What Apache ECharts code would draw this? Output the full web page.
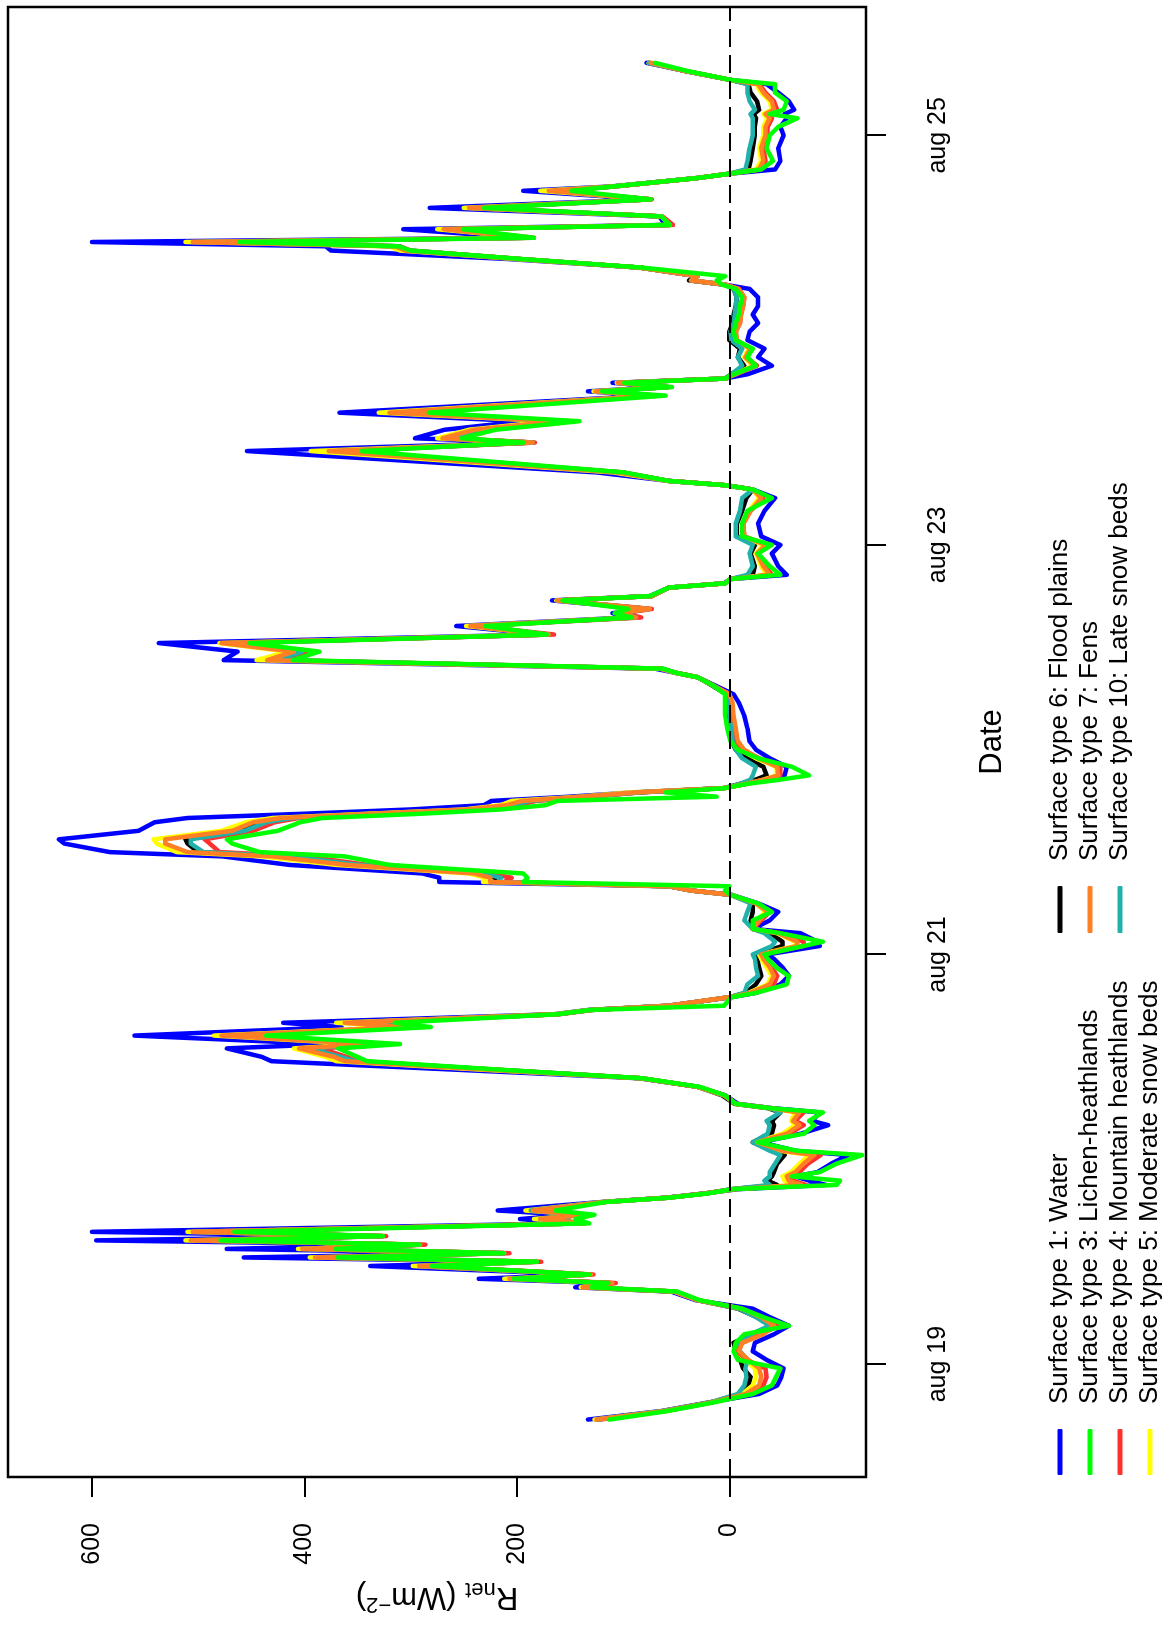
<!DOCTYPE html>
<html>
<head>
<meta charset="utf-8">
<title>Net radiation by surface type</title>
<script src="https://cdn.jsdelivr.net/npm/echarts@6/dist/echarts.min.js"></script>
<style>
  html, body { margin: 0; padding: 0; background: #fff; width: 1171px; height: 1629px; overflow: hidden; }
  /* The figure is laid out landscape and turned a quarter turn counter-clockwise onto the portrait page. */
  #chart { position: absolute; left: 0; top: 0; width: 1629px; height: 1171px;
           transform-origin: 0 0; transform: translate(0px, 1629px) rotate(-90deg); }
</style>
</head>
<body>
<div id="chart"></div>
<script>
// Hours since 19 Aug 00:00
const timeHours = [
  -6.5,-5.5,-4.5,-3.5,-2.5,-1.5,-0.5,0.5,1.5,2.5,3.5,4.5,5.5,6.5,7.5,8.5,
  9,9.5,10,10.5,11.5,12,12.5,13,13.5,14,14.5,15,15.5,16.5,17,17.5,18,19,19.5,20,
  20.5,21,21.5,22,22.5,23.5,24.5,25,26,27,28,28.5,29.5,30,30.5,31.5,32.5,33.5,34.5,35.5,
  36,37,37.5,38.5,39.5,40,41,41.5,42,43,
  43.5,44.5,45.5,46.5,47.5,48,49,49.5,50.5,51,52,53,54,55,55.5,56,
  56.5,57,57.5,58.5,59.5,60,61,61.5,62.5,63.5,64,64.5,65,65.5,66,66.5,67,67.5,68,
  68.5,69,70,71,72,73,74.5,76,77.5,78.5,79.5,80.5,81,81.5,
  82.5,83.5,84.5,85.5,86.5,87.5,88,88.5,89.5,90,91,91.5,
  92,92.5,93.5,95,96,97,98.5,100,101.5,102.5,103,103.5,
  104.5,107,108,108.5,109.5,110.5,111.5,113.5,114,114.5,115,115.5,
  116,117,118,119,120,121,122,123,124,125,126,126.5,127,127.5,
  128.5,129.5,130.5,131,131.5,132,133,133.5,134.5,135.5,136.5,137.5,138,139,139.5,
  140,141,142.5,144,145,146,146.5,147,148,149,150,150.5,151.5,152.5
];

// Net radiation (W m-2) per surface type
const water = [
  133,64,20,-28,-45,-49,-51,-35,-22,-24,-42,-56,-38,-22,32,55,
  145,118,236,136,338,190,457,222,473,300,596,335,600,145,197,150,218,120,60,24,
  -8,-91,-75,-62,-83,-96,-112,-62,-30,-67,-93,-78,-85,-40,-8,4,30,85,257,431,
  440,473,377,560,365,420,165,133,58,-2,
  -25,-48,-56,-50,-42,-35,-85,-83,-67,-22,-38,-46,-27,-2,36,57,
  273,273,289,414,477,583,626,631,556,541,510,400,300,231,224,150,90,5,-15,
  -35,-52,-54,-38,-25,-19,-17,-14,-9,-4,13,30,50,70,
  476,463,537,175,257,95,110,80,167,75,57,5,
  -1,-54,-46,-40,-48,-30,-27,-33,-43,-22,4,57,
  125,454,190,296,268,194,367,75,133,62,110,4,
  -17,-40,-27,-33,-17,-19,-27,-22,-27,-27,-19,4,36,30,
  84,207,375,380,600,195,307,60,66,282,76,194,112,30,0,
  -43,-48,-46,-51,-48,-54,-52,-61,-56,-46,-35,-1,40,78
];
const lichenHeathlands = [
  113,58,15,-22,-40,-44,-48,-8,-4,-6,-14,-56,-32,-12,28,49,
  130,114,203,132,280,181,369,213,371,292,479,326,466,132,145,127,164,116,57,20,
  -3,-101,-104,-59,-85,-101,-125,-64,-27,-70,-80,-75,-88,-38,-6,4,28,82,215,341,
  350,368,310,436,281,315,162,131,5,-2,
  -25,-54,-56,-44,-36,-33,-70,-88,-48,-22,-22,-40,-27,-1,4,0,
  194,190,194,320,362,442,468,473,425,404,383,290,215,173,162,12,60,4,-17,
  -48,-75,-59,-27,-8,-1,2,4,4,4,15,30,50,62,
  411,386,452,172,230,92,108,95,157,75,57,4,
  -1,-48,-38,-27,-40,-12,-12,-17,-40,-22,4,57,
  99,346,194,252,220,141,283,60,120,54,99,4,
  -4,-25,-17,-22,-6,-4,-6,-9,-10,-12,-6,7,12,4,
  82,195,300,312,461,184,251,56,64,231,74,149,110,30,0,
  -30,-41,-35,-38,-46,-64,-38,-51,-54,-43,-43,-1,38,70
];
const mountainHeathlands = [
  122,60,17,-18,-32,-35,-34,-16,-8,-12,-30,-46,-30,-10,30,50,
  134,107,204,128,285,177,378,207,385,286,495,323,488,138,172,140,180,117,58,22,
  -5,-72,-60,-55,-66,-74,-86,-54,-27,-56,-70,-62,-70,-38,-6,4,30,83,218,350,
  360,385,325,458,292,345,160,129,57,0,
  -20,-42,-45,-40,-34,-30,-70,-70,-48,-22,-30,-38,-25,-1,36,57,
  212,205,225,340,400,480,489,494,448,428,405,320,232,200,182,130,84,5,-16,
  -35,-48,-48,-28,-12,-6,-4,-3,-2,0,15,30,50,63,
  418,392,465,165,238,83,100,73,160,73,57,4,
  -1,-40,-34,-27,-36,-14,-13,-20,-32,-22,4,57,
  100,360,183,262,230,150,300,67,124,57,102,4,
  -6,-26,-16,-20,-7,-6,-10,-11,-13,-14,-9,4,36,30,
  84,196,300,310,485,184,260,53,63,236,73,160,108,30,0,
  -30,-34,-32,-36,-36,-40,-36,-45,-42,-34,-28,-1,40,75
];
const moderateSnowBeds = [
  127,62,18,-12,-22,-25,-24,-14,-8,-10,-28,-44,-30,-10,30,52,
  140,112,212,131,298,184,395,215,406,294,512,328,510,136,184,138,192,118,58,22,
  -4,-62,-52,-50,-58,-66,-76,-48,-25,-50,-62,-58,-62,-38,-6,5,30,83,232,370,
  380,410,345,485,310,370,164,131,57,0,
  -18,-36,-40,-35,-30,-28,-62,-62,-45,-22,-26,-34,-25,-1,36,57,
  232,230,245,370,440,520,539,542,478,455,430,340,250,215,205,140,94,5,-17,
  -32,-45,-44,-25,-12,-6,-4,-3,-2,0,15,30,50,65,
  445,415,480,172,248,90,105,76,163,73,57,4,
  -1,-35,-30,-25,-32,-12,-12,-18,-28,-22,4,57,
  110,394,186,275,245,168,330,72,128,58,106,4,
  -5,-22,-14,-18,-6,-5,-8,-10,-12,-13,-8,4,36,30,
  84,200,310,320,512,190,275,56,64,250,74,178,110,30,0,
  -25,-30,-28,-32,-32,-36,-32,-40,-38,-30,-25,-1,40,76
];
const floodPlains = [
  126,62,18,-10,-18,-20,-13,-10,-6,-4,-22,-40,-26,-8,30,51,
  138,112,205,131,290,183,388,212,398,292,505,326,500,136,180,138,188,118,58,22,
  -2,-45,-36,-40,-42,-45,-52,-40,-22,-40,-42,-40,-48,-36,-5,7,30,83,222,355,
  368,398,338,470,300,356,162,131,56,0,
  -15,-25,-30,-28,-26,-25,-50,-50,-38,-22,-20,-22,-22,-1,36,57,
  220,220,235,350,420,500,510,512,460,440,415,330,240,206,190,135,86,5,-10,
  -25,-35,-32,-16,-6,-2,0,1,2,3,16,30,50,64,
  428,405,472,170,242,88,104,76,162,73,57,4,
  -1,-22,-24,-20,-24,-7,-7,-12,-16,-22,4,57,
  102,372,185,268,238,160,315,70,126,58,104,4,
  -2,-14,-8,-10,0,0,-3,-4,-6,-7,-4,4,38,30,
  84,197,303,312,498,189,266,56,64,242,74,168,110,30,0,
  -18,-20,-22,-24,-24,-25,-23,-28,-26,-20,-18,-1,40,76
];
const fens = [
  125,61,17,-15,-28,-30,-28,-18,-9,-12,-32,-42,-30,-12,30,52,
  138,110,207,130,292,182,390,212,402,291,507,326,505,136,178,138,185,118,58,22,
  -4,-68,-56,-54,-62,-70,-80,-50,-26,-54,-66,-60,-66,-38,-6,5,30,83,225,362,
  372,405,340,478,305,362,163,131,57,0,
  -20,-38,-42,-38,-32,-30,-64,-64,-46,-22,-28,-36,-25,-1,36,57,
  225,225,240,360,430,510,531,531,468,448,422,335,246,210,195,138,88,5,-15,
  -33,-46,-45,-27,-14,-8,-6,-4,-3,0,15,30,50,65,
  435,410,478,170,244,88,104,75,162,73,57,4,
  -1,-38,-32,-26,-34,-14,-13,-20,-30,-22,4,57,
  105,377,185,270,240,160,320,70,126,58,105,4,
  -6,-24,-15,-20,-7,-6,-10,-11,-13,-14,-9,4,36,30,
  84,198,305,315,505,189,269,56,64,245,74,170,110,30,0,
  -28,-32,-30,-34,-34,-38,-34,-42,-40,-32,-27,-1,40,74
];
const lateSnowBeds = [
  124,62,18,-8,-14,-16,-15,-17,-10,-8,-20,-38,-25,-9,30,51,
  137,113,205,132,290,183,386,212,396,292,503,327,498,136,178,138,187,118,58,22,
  -2,-38,-33,-38,-38,-43,-48,-38,-22,-36,-38,-35,-48,-38,-6,5,30,83,220,352,
  366,395,336,468,300,354,162,131,56,0,
  -14,-17,-27,-25,-24,-22,-40,-43,-33,-22,-14,-17,-20,-1,36,57,
  218,215,232,348,415,495,507,507,456,436,412,328,238,205,188,135,85,5,-10,
  -20,-22,-25,-12,-6,-3,-2,0,1,2,15,30,50,64,
  425,402,470,170,240,88,104,76,162,73,57,4,
  -1,-17,-22,-19,-22,-6,-6,-10,-12,-22,4,57,
  102,370,185,266,236,158,312,70,125,58,104,4,
  -2,-12,-8,-12,-2,-1,-4,-5,-6,-7,-4,4,36,30,
  84,197,302,311,495,189,265,56,64,240,74,166,110,30,0,
  -15,-17,-19,-22,-22,-22,-20,-24,-19,-17,-17,-1,40,76
];

// Axis ticks and labels
const dateTicks = [0, 48, 96, 144];
const dateLabels = ['aug 19', 'aug 21', 'aug 23', 'aug 25'];
const rnetTicks = [0, 200, 400, 600];

const FONT = '"Liberation Sans", Arial, Helvetica, sans-serif';

// Series in drawing order (last one ends up on top)
const surfaces = [
  { name: 'Surface type 1: Water',               values: water,              color: '#0000FF' },
  { name: 'Surface type 6: Flood plains',        values: floodPlains,        color: '#000000' },
  { name: 'Surface type 5: Moderate snow beds',  values: moderateSnowBeds,   color: '#FFFF00' },
  { name: 'Surface type 4: Mountain heathlands', values: mountainHeathlands, color: '#FF3030' },
  { name: 'Surface type 10: Late snow beds',     values: lateSnowBeds,       color: '#20B2AA' },
  { name: 'Surface type 7: Fens',                values: fens,               color: '#FF7F24' },
  { name: 'Surface type 3: Lichen-heathlands',   values: lichenHeathlands,   color: '#00FF00' }
];

const legendLeftColumn = [
  'Surface type 1: Water',
  'Surface type 3: Lichen-heathlands',
  'Surface type 4: Mountain heathlands',
  'Surface type 5: Moderate snow beds'
];
const legendRightColumn = [
  'Surface type 6: Flood plains',
  'Surface type 7: Fens',
  'Surface type 10: Late snow beds'
];

const series = surfaces.map(s => ({
  name: s.name,
  type: 'line',
  data: timeHours.map((h, i) => [h, s.values[i]]),
  symbol: 'none',
  showSymbol: false,
  color: s.color,
  lineStyle: { color: s.color, width: 4.5, cap: 'round', join: 'round' },
  emphasis: { disabled: true },
  animation: false
}));

// Dashed zero reference line, drawn above the curves
series.push({
  name: 'zero',
  type: 'line',
  data: [],
  silent: true,
  animation: false,
  markLine: {
    silent: true,
    symbol: ['none', 'none'],
    label: { show: false },
    animation: false,
    lineStyle: { color: '#000', width: 2, type: [18, 8] },
    emphasis: { disabled: true },
    data: [{ yAxis: 0 }]
  }
});

const legendCommon = {
  orient: 'vertical',
  selectedMode: false,
  icon: 'roundRect',
  itemHeight: 5,
  itemGap: 4,
  textStyle: { fontFamily: FONT, fontSize: 26, color: '#000', lineHeight: 26, padding: [0, 0, 0, 20] }
};

const chart = echarts.init(document.getElementById('chart'), null, { renderer: 'canvas', width: 1629, height: 1171 });

chart.setOption({
  backgroundColor: '#fff',
  animation: false,
  grid: { left: 152, right: 7, top: 8, bottom: 305, show: true, borderColor: '#000', borderWidth: 2.5, backgroundColor: 'transparent' },
  legend: [
    Object.assign({}, legendCommon, { data: legendLeftColumn, left: 149, top: 1042, itemWidth: 46 }),
    Object.assign({}, legendCommon, { data: legendRightColumn, left: 691, top: 1042, itemWidth: 47 })
  ],
  xAxis: {
    type: 'value',
    min: -13.23,
    max: 159.04,
    axisLine: { show: false, onZero: false },
    splitLine: { show: false },
    axisTick: { show: true, inside: false, length: 20, customValues: dateTicks, lineStyle: { color: '#000', width: 2 } },
    axisLabel: {
      customValues: dateTicks,
      margin: 60,
      fontSize: 25,
      fontFamily: FONT,
      color: '#000',
      formatter: v => dateLabels[dateTicks.indexOf(Math.round(v))] || ''
    },
    name: 'Date',
    nameLocation: 'middle',
    nameGap: 111,
    nameTextStyle: { fontSize: 31, fontFamily: FONT, color: '#000' }
  },
  yAxis: {
    type: 'value',
    min: -128.6,
    max: 679,
    axisLine: { show: false, onZero: false },
    splitLine: { show: false },
    axisTick: { show: true, inside: false, length: 20, customValues: rnetTicks, lineStyle: { color: '#000', width: 2 } },
    axisLabel: { customValues: rnetTicks, margin: 46, fontSize: 25, fontFamily: FONT, color: '#000' },
    name: '{a|R}{b|net}{a| (Wm}{c|\u22122}{a|)}',
    nameLocation: 'middle',
    nameRotate: 90,
    nameGap: 102,
    nameTextStyle: {
      fontSize: 31, fontFamily: FONT, color: '#000',
      rich: {
        a: { fontSize: 31, fontFamily: FONT, color: '#000', lineHeight: 36 },
        b: { fontSize: 22, fontFamily: FONT, color: '#000', lineHeight: 36, padding: [16, 0, 0, 0] },
        c: { fontSize: 22, fontFamily: FONT, color: '#000', lineHeight: 36, padding: [0, 0, 14, 0] }
      }
    }
  },
  series: series
});
</script>
</body>
</html>
